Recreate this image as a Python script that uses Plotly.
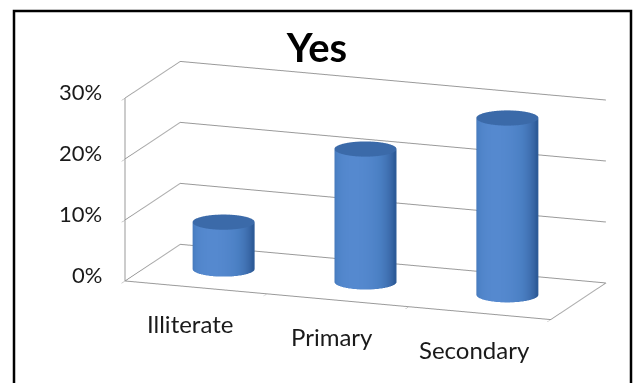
import numpy as np
import plotly.graph_objects as go

# Share answering "Yes" by education level
categories = ["Illiterate", "Primary", "Secondary"]
values = [0.077, 0.218, 0.29]
z_tickvals = [0.0, 0.1, 0.2, 0.3]
z_ticktext = ["0%", "10%", "20%", "30%"]
chart_title = "Yes"

FONT = "Lato"
GRID = "#9a9a9a"
TEXT = "#1a1a1a"
BLUE_SCALE = [[0.0, "#2d5b98"], [0.35, "#3c6bab"], [0.7, "#4a7fc3"], [1.0, "#5589cf"]]

# box proportions (x : depth : height)
ASPECT = dict(x=2.631, y=0.923, z=1.094)
X_RANGE = [-0.5, len(categories) - 0.5]
Y_RANGE = [0.0, 1.0]
Z_RANGE = [0.0, 0.3]

# cylinder radius in real box units, converted to each axis' data units
col_width = 0.41  # fraction of a category slot
rx = col_width / 2
real_r = rx * ASPECT["x"] / (X_RANGE[1] - X_RANGE[0])
ry = real_r * (Y_RANGE[1] - Y_RANGE[0]) / ASPECT["y"]
cy = 0.5

phi = np.radians(20.3)
theta = np.radians(14.2)
light = np.array([np.sin(phi - np.radians(22)), -np.cos(phi - np.radians(22))])

common = dict(
    colorscale=BLUE_SCALE, cmin=0, cmax=1, showscale=False, hoverinfo="skip",
    lighting=dict(ambient=1, diffuse=0, specular=0, roughness=1, fresnel=0),
    contours=dict(x=dict(highlight=False), y=dict(highlight=False), z=dict(highlight=False)),
)

fig = go.Figure()
t = np.linspace(0, 2 * np.pi, 97)
for i, v in enumerate(values):
    T, Zs = np.meshgrid(t, np.array([0.0, v]))
    X = i + rx * np.cos(T)
    Y = cy + ry * np.sin(T)
    shade = np.clip(np.cos(T) * light[0] + np.sin(T) * light[1], 0, 1) ** 0.8
    fig.add_trace(go.Surface(x=X, y=Y, z=Zs, surfacecolor=shade, **common))
    # top cap
    R, Tc = np.meshgrid(np.linspace(0, 1, 2), t)
    Xc = i + R * rx * np.cos(Tc)
    Yc = cy + R * ry * np.sin(Tc)
    Zc = np.full_like(Xc, v)
    fig.add_trace(go.Surface(x=Xc, y=Yc, z=Zc, surfacecolor=np.full_like(Xc, 0.32), **common))

axis_common = dict(showspikes=False, showbackground=False, title=dict(text=""), zeroline=False)

eye_dist = 3.0
eye = dict(x=eye_dist * np.sin(phi) * np.cos(theta),
           y=-eye_dist * np.cos(phi) * np.cos(theta),
           z=eye_dist * np.sin(theta))

# value labels on the vertical axis, placed along its front-left edge
z_labels = [dict(x=X_RANGE[0], y=Y_RANGE[0], z=zv, text=zt, showarrow=False,
                 xanchor="right", xshift=-22, yshift=6,
                 font=dict(family=FONT, size=22, color=TEXT))
            for zv, zt in zip(z_tickvals, z_ticktext)]
cat_labels = [dict(x=i, y=Y_RANGE[0], z=Z_RANGE[0], text=c, showarrow=False,
                   xshift=-6, yshift=-37, font=dict(family=FONT, size=24, color=TEXT))
              for i, c in enumerate(categories)]

fig.update_layout(
    width=634, height=383,
    margin=dict(l=0, r=0, t=0, b=0),
    paper_bgcolor="white",
    title=dict(text="<b>%s</b>" % chart_title, x=0.5, xanchor="center", y=0.875, yanchor="middle",
               font=dict(family=FONT, size=40, color="#000000")),
    scene=dict(
        domain=dict(x=[0.1585, 0.9955], y=[0.054, 0.954]),
        xaxis=dict(range=X_RANGE, tickvals=[-0.5, 0.5, 1.5, 2.5], showticklabels=False,
                   ticks="outside", ticklen=12, tickcolor=GRID, showgrid=False,
                   showline=True, linecolor=GRID, linewidth=2, **axis_common),
        yaxis=dict(range=Y_RANGE, showticklabels=False, ticks="", showgrid=False,
                   showline=True, linecolor=GRID, linewidth=2, **axis_common),
        zaxis=dict(range=Z_RANGE, tickvals=z_tickvals, showticklabels=False,
                   ticks="outside", ticklen=12, tickcolor=GRID,
                   showgrid=True, gridcolor=GRID, gridwidth=2,
                   showline=True, linecolor=GRID, linewidth=2, **axis_common),
        aspectmode="manual", aspectratio=ASPECT,
        camera=dict(eye=eye, center=dict(x=0, y=0, z=0),
                    up=dict(x=0, y=0, z=1), projection=dict(type="orthographic")),
        annotations=z_labels + cat_labels,
        bgcolor="white",
    ),
    shapes=[dict(type="rect", xref="paper", yref="paper", x0=14 / 634, x1=631 / 634,
                 y0=-0.05, y1=1 - 11 / 383, line=dict(color="black", width=2.5))],
)

fig.write_html("out.html")
